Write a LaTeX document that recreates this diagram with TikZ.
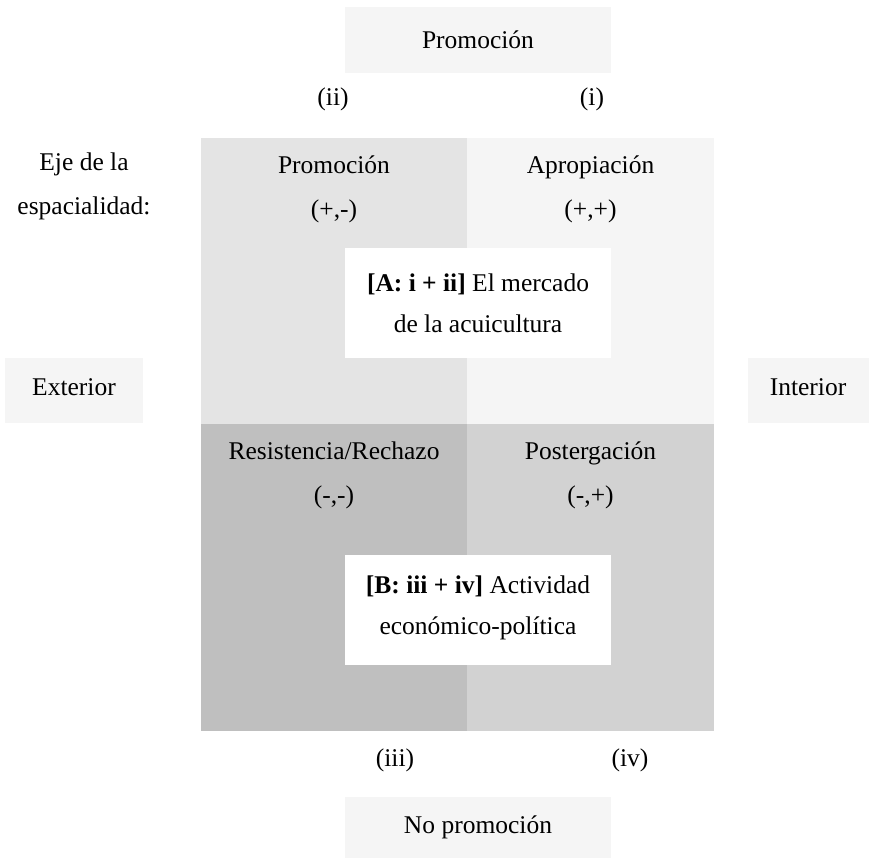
\documentclass[tikz,border=0pt]{standalone}
\usepackage{fontspec}
\setmainfont{Liberation Serif}
\definecolor{qTL}{HTML}{E4E4E4}
\definecolor{qTR}{HTML}{F5F5F5}
\definecolor{qBL}{HTML}{BFBFBF}
\definecolor{qBR}{HTML}{D2D2D2}
\definecolor{lbl}{HTML}{F5F5F5}
\tikzset{
  txt/.style={font=\fontsize{25.5}{44}\selectfont, align=center, inner sep=0pt, text=black},
  boxtxt/.style={font=\fontsize{25.5}{41}\selectfont, align=center, inner sep=0pt, text=black},
}
\begin{document}
\begin{tikzpicture}[x=1pt,y=-1pt]
\useasboundingbox (0,0) rectangle (869,858);
% quadrants
\fill[qTL] (201,138) rectangle (467,424);
\fill[qTR] (467,138) rectangle (714,424);
\fill[qBL] (201,424) rectangle (467,731);
\fill[qBR] (467,424) rectangle (714,731);
\coordinate (tl) at (334,189);
\coordinate (tr) at (590.5,189);
\coordinate (bl) at (334,475);
\coordinate (br) at (590.5,475);
\node[txt] (tltxt) at (tl) {Promoción\\(+,-)};
\node[txt] (trtxt) at (tr) {Apropiación\\(+,+)};
\node[txt] (bltxt) at (bl) {Resistencia/Rechazo\\(-,-)};
\node[txt] (brtxt) at (br) {Postergación\\(-,+)};
% white boxes
\fill[white] (345,248) rectangle (611,358);
\node[boxtxt] (atxt) at (478,303) {\textbf{[A: i + ii]} El mercado\\de la acuicultura};
\fill[white] (345,555) rectangle (611,665);
\node[boxtxt] (btxt) at (478,608) {\textbf{[B: iii + iv]} Actividad\\económico-política};
% label boxes
\fill[lbl] (345,7) rectangle (611,73);
\node[txt] (promo) at (478,40) {Promoción};
\fill[lbl] (345,797) rectangle (611,858);
\node[txt] (nopromo) at (478,827) {No promoción};
\fill[lbl] (5,358) rectangle (143,423);
\node[txt] (ext) at (74,387) {Exterior};
\fill[lbl] (748,358) rectangle (869,423);
\node[txt] (int) at (808,387) {Interior};
% roman labels
\node[txt] (ii) at (333,99) {(ii)};
\node[txt] (i) at (592,99) {(i)};
\node[txt] (iii) at (395,760) {(iii)};
\node[txt] (iv) at (630,760) {(iv)};
% axis label
\node[txt] (eje) at (84,186) {Eje de la\\espacialidad:};
\end{tikzpicture}
\end{document}
